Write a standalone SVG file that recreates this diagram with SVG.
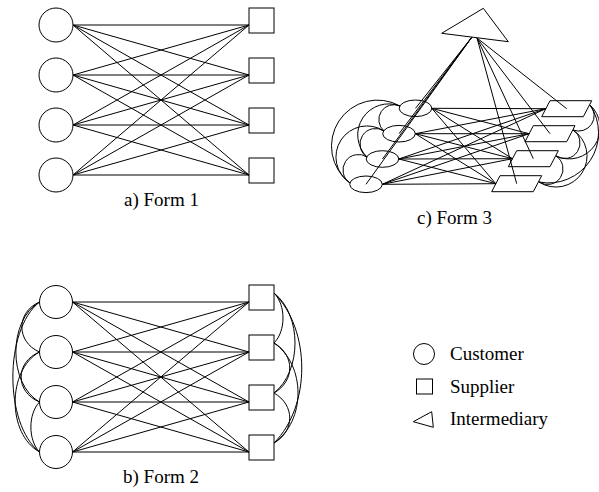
<svg xmlns="http://www.w3.org/2000/svg" width="599" height="492" viewBox="0 0 599 492">
<style>
.s{fill:#fff;stroke:#000;stroke-width:1}
.o{fill:none;stroke:#000;stroke-width:1}
.c path,.c line{fill:none;stroke:#000;stroke-width:1}
text{font-family:"Liberation Serif","Times New Roman",serif;font-size:19px;fill:#000}
</style>
<rect width="599" height="492" fill="#fff"/>
<g id="connectors" class="c">
<!-- Form 1 -->
<path d="M73,25L249,25M73,25L249,75M73,25L249,125M73,25L249,175M73,75L249,25M73,75L249,75M73,75L249,125M73,75L249,175M73,125L249,25M73,125L249,75M73,125L249,125M73,125L249,175M73,175L249,25M73,175L249,75M73,175L249,125M73,175L249,175"/>
<!-- Form 2 -->
<path d="M72.5,302L249,302M72.5,302L249,352M72.5,302L249,402M72.5,302L249,452M72.5,352L249,302M72.5,352L249,352M72.5,352L249,402M72.5,352L249,452M72.5,402L249,302M72.5,402L249,352M72.5,402L249,402M72.5,402L249,452M72.5,452L249,302M72.5,452L249,352M72.5,452L249,402M72.5,452L249,452"/>
<path d="M39.5,302C16,312 16,342 39.5,352M39.5,352C15,362 15,392 39.5,402M39.5,402C28,414 28,440 39.5,452M39.5,302C8,320 8,384 39.5,402M39.5,352C7,370 7,434 39.5,452M39.5,302C4,330 4,424 39.5,452"/>
<path d="M274,293C286,305 286,331 274,343M274,343C295,355 295,381 274,393M274,393C295,405 295,431 274,443M274,293C302,315 302,371 274,393M274,343C306,365 306,421 274,443M274,293C311,330 311,406 274,443"/>
<!-- Form 3 -->
<path d="M431.8,108.3L545.8,108.7M431.8,108.3L529.1,133.7M431.8,108.3L512.5,158.7M431.8,108.3L495.8,183.7M415.3,133.7L545.8,108.7M415.3,133.7L529.1,133.7M415.3,133.7L512.5,158.7M415.3,133.7L495.8,183.7M398.8,159L545.8,108.7M398.8,159L529.1,133.7M398.8,159L512.5,158.7M398.8,159L495.8,183.7M382.3,184.3L545.8,108.7M382.3,184.3L529.1,133.7M382.3,184.3L512.5,158.7M382.3,184.3L495.8,183.7"/>
<path d="M472,37L415.5,108.3M472,37L399,133.7M472,37L382.5,159M472,37L366,184.3M477,38L566.7,108.7M477,38L550,133.7M477,38L533.3,158.7M477,38L516.7,183.7"/>
<path d="M400,106A15,15 0 0 0 384,131M384,131A15.5,15.5 0 0 0 367,157M367,157A15.5,15.5 0 0 0 350,183M400,106A31,31 0 0 0 367,157M384,131A31,31 0 0 0 350,183M400,106A46,46 0 0 0 350,183"/>
<path d="M590,105A15.5,15.5 0 0 1 573,130M573,130A15.5,15.5 0 0 1 556,156M556,156A15.5,15.5 0 0 1 539,182M590,105A31,31 0 0 1 556,156M573,130A31,31 0 0 1 539,182M590,105A50,50 0 0 1 539,182"/>
</g>
<g id="form1">
<g id="f1-customer1"><circle class="s" cx="56" cy="25" r="17"/></g>
<g id="f1-customer2"><circle class="s" cx="56" cy="75" r="17"/></g>
<g id="f1-customer3"><circle class="s" cx="56" cy="125" r="17"/></g>
<g id="f1-customer4"><circle class="s" cx="56" cy="175" r="17"/></g>
<g id="f1-supplier1"><rect class="s" x="249" y="8" width="25" height="25"/></g>
<g id="f1-supplier2"><rect class="s" x="249" y="58" width="25" height="25"/></g>
<g id="f1-supplier3"><rect class="s" x="249" y="108" width="25" height="25"/></g>
<g id="f1-supplier4"><rect class="s" x="249" y="158" width="25" height="25"/></g>
<text id="label-a" x="124" y="206">a) Form 1</text>
</g>
<g id="form2">
<g id="f2-customer1"><circle class="s" cx="56" cy="302" r="16.5"/></g>
<g id="f2-customer2"><circle class="s" cx="56" cy="352" r="16.5"/></g>
<g id="f2-customer3"><circle class="s" cx="56" cy="402" r="16.5"/></g>
<g id="f2-customer4"><circle class="s" cx="56" cy="452" r="16.5"/></g>
<g id="f2-supplier1"><rect class="s" x="249" y="285" width="25" height="25"/></g>
<g id="f2-supplier2"><rect class="s" x="249" y="335" width="25" height="25"/></g>
<g id="f2-supplier3"><rect class="s" x="249" y="385" width="25" height="25"/></g>
<g id="f2-supplier4"><rect class="s" x="249" y="435" width="25" height="25"/></g>
<text id="label-b" x="123" y="483">b) Form 2</text>
</g>
<g id="form3">
<g id="f3-intermediary"><polygon class="o" points="441.7,33.3 483.3,8.3 508.3,41.7"/></g>
<g id="f3-customer1"><ellipse class="o" cx="415.5" cy="108.3" rx="16.3" ry="8.3"/></g>
<g id="f3-customer2"><ellipse class="o" cx="399" cy="133.7" rx="16.3" ry="8.3"/></g>
<g id="f3-customer3"><ellipse class="o" cx="382.5" cy="159" rx="16.3" ry="8.3"/></g>
<g id="f3-customer4"><ellipse class="o" cx="366" cy="184.3" rx="16.3" ry="8.3"/></g>
<g id="f3-supplier1"><polygon class="o" points="550,100.7 591.7,100.7 583.3,116.7 541.7,116.7"/></g>
<g id="f3-supplier2"><polygon class="o" points="533.3,125.7 575,125.7 566.7,141.7 525,141.7"/></g>
<g id="f3-supplier3"><polygon class="o" points="516.7,150.7 558.3,150.7 550,166.7 508.3,166.7"/></g>
<g id="f3-supplier4"><polygon class="o" points="500,175.7 541.7,175.7 533.3,191.7 491.7,191.7"/></g>
<text id="label-c" x="417" y="224">c) Form 3</text>
</g>
<g id="legend">
<g id="legend-customer"><circle class="o" cx="424" cy="354" r="10.5"/><text x="450" y="360">Customer</text></g>
<g id="legend-supplier"><rect class="o" x="416.5" y="379" width="16" height="15"/><text x="450" y="393">Supplier</text></g>
<g id="legend-intermediary"><polygon class="o" points="413.3,421.7 431.7,411.7 433.3,427.3"/><text x="450" y="425">Intermediary</text></g>
</g>
</svg>
